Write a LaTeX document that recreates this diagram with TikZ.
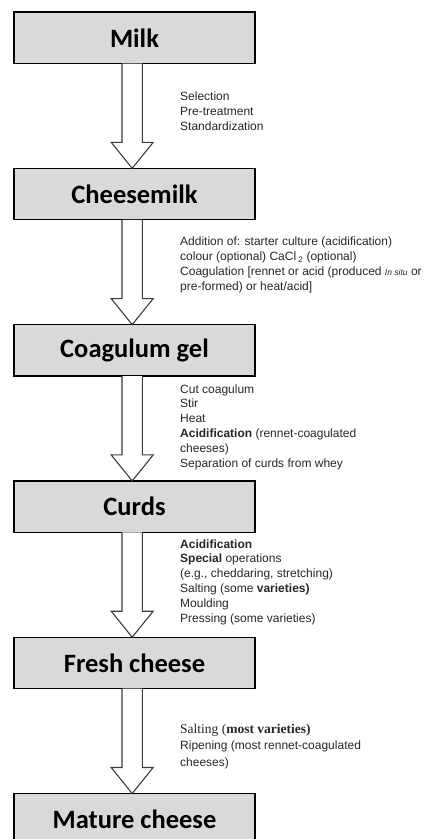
\documentclass[tikz,border=0pt]{standalone}
\usepackage{fontspec}
\setmainfont{Liberation Sans}
\newfontfamily\titlefont{Carlito}
\newfontfamily\serifnote{Liberation Serif}
\usetikzlibrary{positioning}

\definecolor{stagegray}{RGB}{217,217,217}
\definecolor{arrowgray}{RGB}{60,60,60}

% hollow block arrow from one stage box down to the next
\newcommand{\stagearrow}[2]{%
 \draw[flow arrow] ([xshift=-12.5pt]#1.south) -- ([xshift=-12.5pt,yshift=26pt]#2.north)
   -- ([xshift=-23.3pt,yshift=26pt]#2.north) -- ([xshift=-2.3pt]#2.north)
   -- ([xshift=18.7pt,yshift=26pt]#2.north) -- ([xshift=7.9pt,yshift=26pt]#2.north)
   -- ([xshift=7.9pt]#1.south);}

\begin{document}
\begin{tikzpicture}[x=1pt,y=1pt,
  stage/.style={draw=black,line width=1.3pt,fill=stagegray,outer sep=0pt,
   minimum width=241pt,minimum height=51.5pt,inner sep=0pt,
   font=\titlefont\bfseries\fontsize{26.5}{30}\selectfont},
  flow arrow/.style={draw=arrowgray,line width=1.1pt,fill=white,line join=miter},
  note/.style={anchor=base west,align=left,inner sep=0pt,text=black!85,
   font=\fontsize{12}{14.8}\selectfont}]

 \useasboundingbox (0,0) rectangle (437,-839);

 \node [stage] (milk) at (134.5,-37.75) {Milk};
 \node [stage, below = 104.8pt of milk] (cmilk) {Cheesemilk};
 \node [stage, below = 104.8pt of cmilk] (gel) {Coagulum gel};
 \node [stage, below = 104.8pt of gel] (curds) {Curds};
 \node [stage, below = 104.8pt of curds] (fresh) {Fresh cheese};
 \node [stage, below = 104.8pt of fresh] (mature) {Mature cheese};

 \stagearrow{milk}{cmilk}
 \stagearrow{cmilk}{gel}
 \stagearrow{gel}{curds}
 \stagearrow{curds}{fresh}
 \stagearrow{fresh}{mature}

 % notes sit on the baseline of their last line
 \node [note] (nmilk) at (180,-130) {Selection\\Pre-treatment\\Standardization};
 \node [note] (ncmilk) at (180,-290) {Addition of: starter culture (acidification)\\
  colour (optional) CaCl\,\textsubscript{2} (optional)\\
  Coagulation [rennet or acid (produced {\itshape\fontsize{8.5}{10}\selectfont In situ} or\\
  pre-formed) or heat/acid]};
 \node [note] (ngel) at (180,-467) {Cut coagulum\\Stir\\Heat\\
  \textbf{Acidification} (rennet-coagulated\\cheeses)\\Separation of curds from whey};
 \node [note] (ncurds) at (180,-622) {\textbf{Acidification}\\\textbf{Special} operations\\
  (e.g., cheddaring, stretching)\\Salting (some \textbf{varieties)}\\Moulding\\
  Pressing (some varieties)};
 \node [note, font=\fontsize{12}{16.5}\selectfont] (nfresh) at (180,-766)
  {{\serifnote\fontsize{13.5}{16.5}\selectfont Salting (\textbf{most varieties)}}\\
  Ripening (most rennet-coagulated\\cheeses)};
\end{tikzpicture}
\end{document}
